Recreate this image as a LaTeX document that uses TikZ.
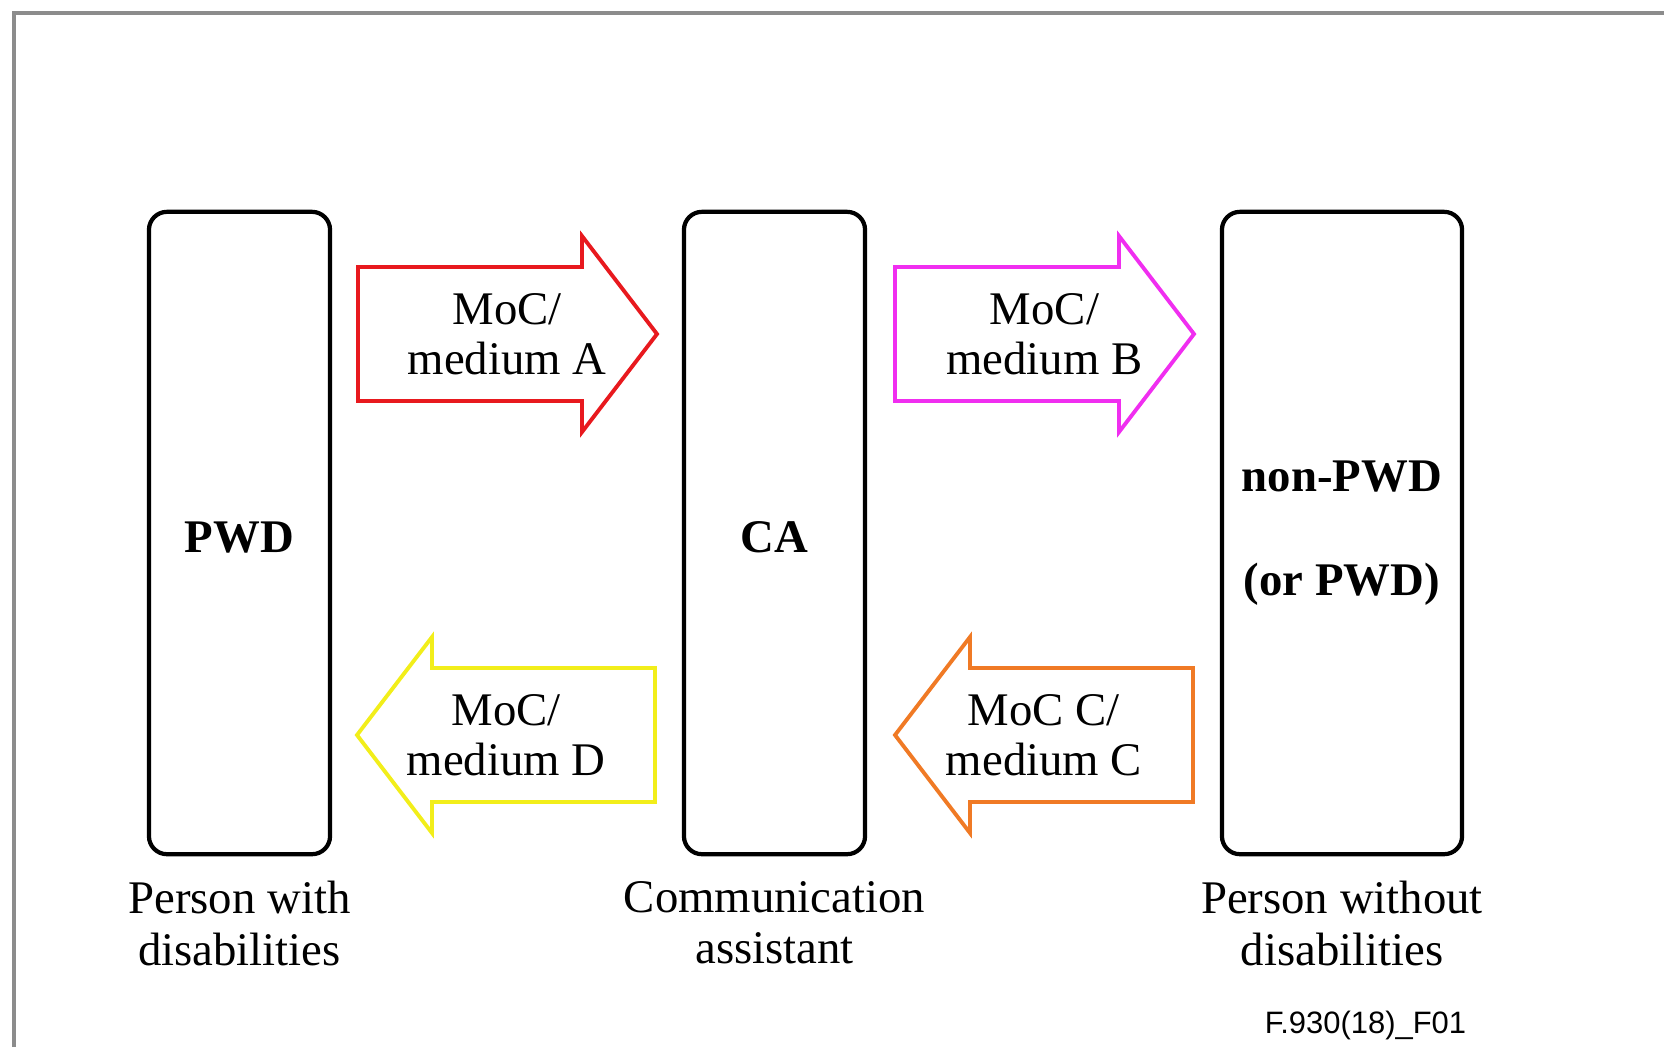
\documentclass[tikz,border=0pt]{standalone}
\usepackage{fontspec}
\setmainfont{Liberation Serif}
\setsansfont{Liberation Sans}
\usetikzlibrary{positioning}
\definecolor{mocred}{HTML}{E8191E}
\definecolor{mocmagenta}{HTML}{F02EF0}
\definecolor{mocyellow}{HTML}{F2EE1A}
\definecolor{mocorange}{HTML}{F07A25}
\begin{document}
\begin{tikzpicture}[x=0.01cm,y=-0.01cm,
  party/.style={draw,line width=1.2pt,rounded corners=0.18cm,minimum height=6.42cm,inner sep=0pt},
  moc/.style={line width=1.1pt},
  txt/.style={align=center,inner sep=0pt,font=\fontsize{13.3}{14.2}\selectfont}]
\useasboundingbox (0,0) rectangle (1664,1047);
\draw[black!45,line width=1.2pt] (14,1047) -- (14,13) -- (1664,13);

\node (pwd) at (239.5,533) [party,minimum width=1.81cm,text height=0.39cm,font=\bfseries\fontsize{13.3}{16}\selectfont]{PWD};
\node (ca) at (774.5,533) [party,minimum width=1.81cm,text height=0.39cm,font=\bfseries\fontsize{13.3}{16}\selectfont]{CA};
\node (npwd) at (1342,533) [party,minimum width=2.40cm,align=center,font=\bfseries\fontsize{13.3}{29.5}\selectfont]{non-PWD\\(or PWD)};

\node (pwdlbl) [txt,below=0.24cm of pwd,font=\fontsize{13.3}{14.7}\selectfont]{Person with\\disabilities};
\node (calbl) [txt,below=0.24cm of ca,font=\fontsize{13.3}{14.7}\selectfont]{Communication\\assistant};
\node (npwdlbl) [txt,below=0.24cm of npwd,font=\fontsize{13.3}{14.7}\selectfont]{Person without\\disabilities};

% media between the parties
\draw[moc,mocred] (358,267) -- (582,267) -- (582,236) -- (657,334) -- (582,432) -- (582,401) -- (358,401) -- cycle;
\draw[moc,mocmagenta] (895,267) -- (1119,267) -- (1119,236) -- (1194,334) -- (1119,432) -- (1119,401) -- (895,401) -- cycle;
\draw[moc,mocyellow] (655,668) -- (432,668) -- (432,637) -- (357,735) -- (432,833) -- (432,802) -- (655,802) -- cycle;
\draw[moc,mocorange] (1193,668) -- (970,668) -- (970,637) -- (895,735) -- (970,833) -- (970,802) -- (1193,802) -- cycle;

\node (ma) at (507,334) [txt]{MoC/\\medium A};
\node (mb) at (1044.5,334) [txt]{MoC/\\medium B};
\node (md) at (506,735) [txt]{MoC/\\medium D};
\node (mc) at (1044,735) [txt]{MoC C/\\medium C};

\node (fig) at (1365.5,1033) [anchor=base,inner sep=0pt,font=\sffamily\fontsize{8.8}{10}\selectfont]{F.930(18)\_F01};
\end{tikzpicture}
\end{document}
